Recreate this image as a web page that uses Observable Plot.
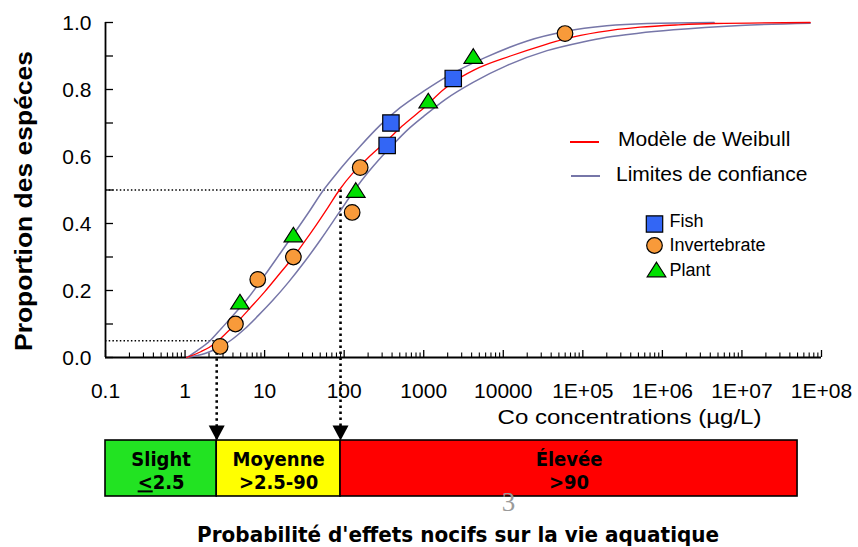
<!DOCTYPE html>
<html><head><meta charset="utf-8">
<script src="https://cdn.jsdelivr.net/npm/d3@7"></script>
<script src="https://cdn.jsdelivr.net/npm/@observablehq/plot@0.6"></script>
<style>
body{margin:0;background:#fff;}
#chart svg{display:block;}
</style></head><body><div id="chart"></div>
<script>
// ---- data: [concentration µg/L, proportion of species] ----
const modelCurve = [[1.05,0],[1.6,0.018],[2.0,0.03],[2.6,0.05],[3.3,0.073],[4.3,0.10],[6.3,0.143],[10,0.196],[15.8,0.253],[23,0.30],[31.6,0.345],[44.7,0.396],[63,0.449],[87,0.50],[126,0.548],[158,0.572],[214,0.603],[347,0.648],[531,0.69],[1000,0.745],[1780,0.80],[2340,0.822],[4270,0.858],[12300,0.90],[31600,0.932],[60300,0.951],[158000,0.971],[525000,0.986],[1.58e6,0.993],[4.47e6,0.997],[7.2e7,1.0]];
const upperLimit = [[1.05,0],[1.41,0.02],[2.06,0.05],[2.82,0.085],[3.98,0.125],[6.3,0.18],[10,0.245],[15.8,0.312],[23,0.367],[35.5,0.432],[55,0.50],[79.4,0.548],[112,0.59],[158,0.63],[282,0.693],[501,0.745],[1000,0.795],[2000,0.84],[5890,0.895],[20000,0.945],[60300,0.973],[200000,0.99],[646000,0.997],[4.47e6,1.0]];
const lowerLimit = [[1.05,0],[1.78,0.012],[2.51,0.027],[3.7,0.05],[5.6,0.085],[8.3,0.125],[12.6,0.17],[20,0.225],[31.6,0.285],[50,0.35],[85,0.43],[135,0.50],[200,0.553],[284,0.595],[398,0.632],[617,0.678],[1000,0.72],[1860,0.77],[4230,0.822],[11200,0.872],[35500,0.916],[100000,0.942],[200000,0.956],[500000,0.968],[1.38e6,0.978],[9.5e6,0.991],[7.2e7,0.998]];
const fish = [[347,0.633],[387,0.70],[2350,0.833]];
const invertebrate = [[2.76,0.033],[4.3,0.10],[8.2,0.233],[23,0.30],[126,0.433],[159,0.567],[59700,0.967]];
const plant = [[4.9,0.167],[23,0.367],[140,0.50],[1140,0.767],[4200,0.90]];
const hcLevels = [0.05, 0.5];
const hcValues = [2.5, 90];
const bandNames = ["Slight", "Moyenne", "Élevée"];
const bandRanges = ["<2.5", ">2.5-90", ">90"];
const bandFrom = [0.1, 2.5, 90];
const bandTo = [2.5, 90, 5e7];
const xTickValues = [0.1,1,10,100,1000,10000,1e5,1e6,1e7,1e8];
const xTickLabels = ["0.1","1","10","100","1000","10000","1E+05","1E+06","1E+07","1E+08"];
const yTickValues = [0,0.2,0.4,0.6,0.8,1.0];
const yTickLabels = ["0.0","0.2","0.4","0.6","0.8","1.0"];
const yMinorTicks = [0.1,0.3,0.5,0.7,0.9];
const seriesNames = ["Fish","Invertebrate","Plant"];
const lineNames = ["Modèle de Weibull","Limites de confiance"];
const yTitle = "Proportion des espéces";
const xTitle = "Co concentrations (µg/L)";
const caption = "Probabilité d'effets nocifs sur la vie aquatique";
const pageNumber = "3";

// ---- derived tables ----
const refs = hcValues.map((c, i) => ({c, p: hcLevels[i]}));
const bands = bandNames.map((name, i) => ({name, range: bandRanges[i], from: bandFrom[i], to: bandTo[i]}));
const xMinor = [];
for (const d of xTickValues.slice(0, -1)) for (let k = 2; k <= 9; k++) xMinor.push(d * k);

// ---- styles / layout ----
const SANS = "'Liberation Sans', Arial, sans-serif";
const NARROW = "'Liberation Sans Narrow', 'Arial Narrow', 'DejaVu Sans Condensed', sans-serif";
const GREY = "#7676a8";
const BAR_TOP = -0.2478, BAR_BOTTOM = -0.4149;
const squareSym = {draw(ctx){const s=8.2; ctx.moveTo(-s,-s); ctx.lineTo(s,-s); ctx.lineTo(s,s); ctx.lineTo(-s,s); ctx.closePath();}};
const triSym = {draw(ctx){const w=9.3,h=7.3; ctx.moveTo(0,-h); ctx.lineTo(w,h); ctx.lineTo(-w,h); ctx.closePath();}};
const arrowSym = {draw(ctx){ctx.moveTo(-8,-15); ctx.lineTo(8,-15); ctx.lineTo(0,0); ctx.closePath();}};
const fills = {Fish: "#3366f5", Invertebrate: "#f89a3a", Plant: "#00e000"};
const syms = {Fish: squareSym, Invertebrate: "circle", Plant: triSym};
const symR = {Fish: 5, Invertebrate: 7.8, Plant: 5};
const legendSymPos = {Fish: [549, 201.5], Invertebrate: [549, 223], Plant: [551, 247]};
const legendTextDy = {Fish: 199, Invertebrate: 223, Plant: 248.2};

const px = d => d[0], py = d => d[1];

const plot = Plot.plot({
  width: 858, height: 547,
  marginLeft: 105, marginRight: 37, marginTop: 22, marginBottom: 190,
  style: {background: "white", fontFamily: SANS},
  x: {type: "log", domain: [0.1, 1e8], axis: null},
  y: {domain: [0, 1], axis: null},
  color: {domain: bandNames, range: ["#22e322", "#ffff00", "#ff0000"]},
  marks: [
    // dotted reference lines and arrows
    Plot.ruleY(refs, {y: "p", x1: 0.1, x2: "c", stroke: "black", strokeWidth: 1.3, strokeDasharray: "1.5,2.2"}),
    Plot.ruleX(refs, {x: "c", y1: "p", y2: BAR_TOP, stroke: "black", strokeWidth: 2.6, strokeDasharray: "2.6,3.4"}),
    Plot.dot(refs, {x: "c", y: BAR_TOP, symbol: arrowSym, fill: "black", stroke: "none", r: 5}),
    // axes
    Plot.ruleX([0.1], {y1: 0, y2: 1, stroke: "black", strokeWidth: 1.8}),
    Plot.ruleY([0], {x1: 0.1, x2: 1e8, stroke: "black", strokeWidth: 1.8}),
    Plot.ruleY(yTickValues.concat(yMinorTicks), {y: d => d, x1: 0.1, x2: 0.1, insetRight: -8, stroke: "black", strokeWidth: 1.3}),
    Plot.ruleX(xTickValues, {x: d => d, y1: 0, y2: 0, insetTop: -7, stroke: "black", strokeWidth: 1.3}),
    Plot.ruleX(xMinor, {x: d => d, y1: 0, y2: 0, insetTop: -4.5, stroke: "black", strokeWidth: 1.1}),
    Plot.text(yTickValues, {x: 0.1, y: d => d, text: (d, i) => yTickLabels[i], textAnchor: "end", dx: -14, dy: 1, fontSize: 21, fontFamily: SANS, fill: "black"}),
    Plot.text(xTickValues, {x: d => d, y: 0, text: (d, i) => xTickLabels[i], dy: 34, fontSize: 21, fontFamily: SANS, fill: "black"}),
    Plot.text([xTitle], {frameAnchor: "bottom-right", textAnchor: "end", lineAnchor: "middle", dx: -60, dy: 59.5, fontSize: 21, fontFamily: SANS, fill: "black"}),
    Plot.text([yTitle], {frameAnchor: "left", textAnchor: "middle", lineAnchor: "middle", rotate: -90, dx: -81, dy: 11, fontSize: 23, fontWeight: "bold", fontFamily: SANS, fill: "black"}),
    // curves
    Plot.line(upperLimit, {x: px, y: py, stroke: GREY, strokeWidth: 1.5, curve: "monotone-x"}),
    Plot.line(lowerLimit, {x: px, y: py, stroke: GREY, strokeWidth: 1.5, curve: "monotone-x"}),
    Plot.line(modelCurve, {x: px, y: py, stroke: "#ff0000", strokeWidth: 1.3, curve: "monotone-x"}),
    // points
    Plot.dot(fish, {x: px, y: py, symbol: syms.Fish, r: symR.Fish, fill: fills.Fish, stroke: "black", strokeWidth: 1.2}),
    Plot.dot(invertebrate, {x: px, y: py, symbol: syms.Invertebrate, r: symR.Invertebrate, fill: fills.Invertebrate, stroke: "black", strokeWidth: 1.2}),
    Plot.dot(plant, {x: px, y: py, symbol: syms.Plant, r: symR.Plant, fill: fills.Plant, stroke: "black", strokeWidth: 1.2}),
    // legend: symbols and texts
    ...seriesNames.map(name => Plot.dot([name], {frameAnchor: "top-left", dx: legendSymPos[name][0], dy: legendSymPos[name][1], symbol: syms[name], r: symR[name], fill: fills[name], stroke: "black", strokeWidth: 1.2})),
    ...seriesNames.map(name => Plot.text([name], {frameAnchor: "top-left", textAnchor: "start", lineAnchor: "middle", dx: 564, dy: legendTextDy[name], fontSize: 18, fontFamily: SANS, fill: "black"})),
    Plot.text([lineNames[0]], {frameAnchor: "top-left", textAnchor: "start", lineAnchor: "middle", dx: 512.5, dy: 117, fontSize: 21, fontFamily: SANS, fill: "black"}),
    Plot.text([lineNames[1]], {frameAnchor: "top-left", textAnchor: "start", lineAnchor: "middle", dx: 510.5, dy: 151.3, fontSize: 21, fontFamily: SANS, fill: "black"}),
    // probability bar
    Plot.rect(bands, {x1: "from", x2: "to", y1: BAR_TOP, y2: BAR_BOTTOM, fill: "name", stroke: "black", strokeWidth: 1.6}),
    Plot.text(bands, {x: d => Math.sqrt(d.from * d.to), y: BAR_TOP, dy: 30, text: d => d.name + "\n" + d.range, lineHeight: 1.15, fontSize: 20, fontWeight: "bold", fontFamily: NARROW, fill: "black"}),
    Plot.text([pageNumber], {frameAnchor: "bottom-left", textAnchor: "middle", lineAnchor: "middle", dx: 403, dy: 145, fontSize: 27, fontFamily: "'Liberation Serif', serif", fill: "#9a9a9a"}),
    Plot.text([caption], {frameAnchor: "bottom-left", textAnchor: "middle", lineAnchor: "middle", dx: 352.6, dy: 178, fontSize: 21, fontWeight: "bold", fontFamily: NARROW, fill: "black"})
  ]
});

const svg = d3.select(plot);
// legend line swatches
svg.append("line").attr("x1", 570).attr("x2", 599).attr("y1", 142).attr("y2", 142).attr("stroke", "#ff0000").attr("stroke-width", 2);
svg.append("line").attr("x1", 571).attr("x2", 600).attr("y1", 176).attr("y2", 176).attr("stroke", GREY).attr("stroke-width", 2);
// stretch some texts to the widths seen in the reference
const setLen = (str, len) => svg.selectAll("text").filter(function(){ return this.textContent === str; })
  .attr("textLength", len).attr("lengthAdjust", "spacingAndGlyphs");
setLen(yTitle, 300);
setLen(xTitle, 264);
setLen(caption, 522);
// underline the "<" of "<2.5" (meaning ≤)
svg.selectAll("tspan").filter(function(){ return this.textContent === "<2.5"; }).each(function(){
  const t = d3.select(this); t.text("");
  t.append("tspan").attr("text-decoration", "underline").text("<");
  t.append("tspan").text("2.5");
});
document.getElementById("chart").appendChild(plot);
</script>
</body></html>
